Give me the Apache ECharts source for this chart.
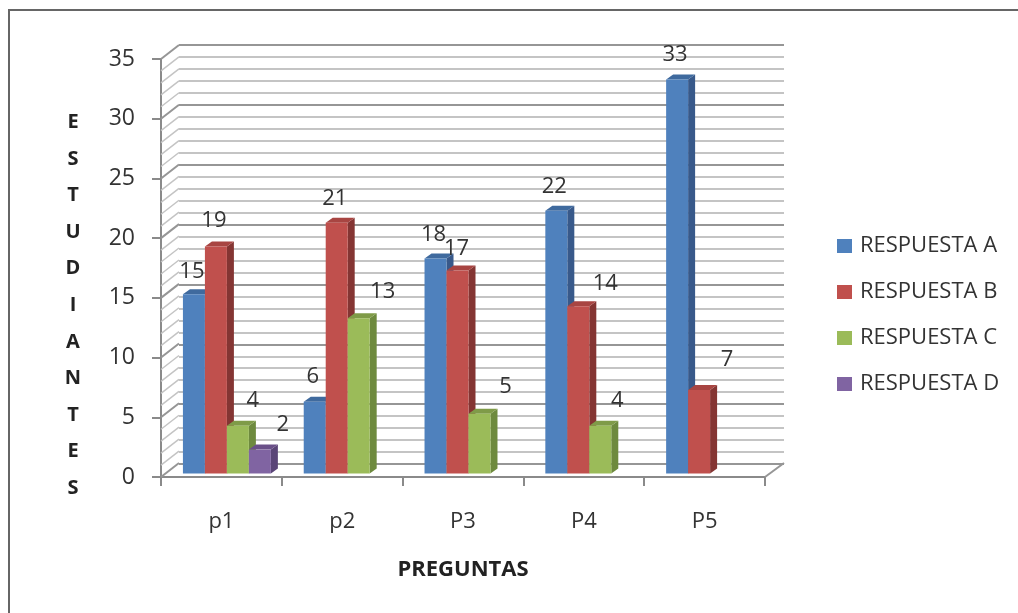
<!DOCTYPE html>
<html>
<head>
<meta charset="utf-8">
<style>html,body{margin:0;padding:0;background:#fff}#chart{width:1018px;height:613px}</style>
<script src="https://cdn.jsdelivr.net/npm/echarts@6/dist/echarts.min.js"></script>
</head>
<body>
<div id="chart"></div>
<script>
// Survey answers per question
const categories = ['p1', 'p2', 'P3', 'P4', 'P5'];
const respuestaA = [15, 6, 18, 22, 33];
const respuestaB = [19, 21, 17, 14, 7];
const respuestaC = [4, 13, 5, 4, null];
const respuestaD = [2, null, null, null, null];
const wallLevels = Array.from({length: 36}, (_, i) => i);

const FONT = '"Open Sans", Lato, sans-serif';
const TEXT = '#333333';
const DEPTH = {x: 18, y: -14};       // wall offset of the pseudo-3D box
const BAR_DEPTH = {x: 7, y: -5};     // visible depth of each column
const BAR_SHIFT = {x: 5.5, y: -3.5}; // columns stand mid-way on the floor

const seriesConfig = [
  {name: 'RESPUESTA A', values: respuestaA, slot: 0, face: '#4F81BD', top: '#3F6A9E', side: '#38598A',
   nudge: [[-2, -23], [-2, -25], [-2, -24], [-2, -24], [-2, -25]]},
  {name: 'RESPUESTA B', values: respuestaB, slot: 1, face: '#C0504D', top: '#A84542', side: '#843533',
   nudge: [[-2, -26], [-2, -24], [-1, -22], [27, -23], [28, -30]]},
  {name: 'RESPUESTA C', values: respuestaC, slot: 2, face: '#9BBB59', top: '#7F9B48', side: '#6E8A3E',
   nudge: [[15, -25], [24, -27], [26, -27], [17, -25], [0, 0]]},
  {name: 'RESPUESTA D', values: respuestaD, slot: 3, face: '#8064A2', top: '#6A5088', side: '#5A4577',
   nudge: [[23, -25], [0, 0], [0, 0], [0, 0], [0, 0]]}
];

// Draws one column as front, top and side faces plus its value label
function column3d(cfg) {
  return function (params, api) {
    const idx = api.value(0), val = api.value(1);
    const band = api.size([1, 0])[0];
    const w = band * 0.182;
    const groupLeft = api.coord([idx, 0])[0] - 2 * w + BAR_SHIFT.x;
    const x0 = groupLeft + cfg.slot * w, x1 = x0 + w;
    const yBase = api.coord([idx, 0])[1] + BAR_SHIFT.y;
    const yTop = api.coord([idx, val])[1] + BAR_SHIFT.y;
    const dx = BAR_DEPTH.x, dy = BAR_DEPTH.y;
    const n = cfg.nudge[idx];
    return {
      type: 'group',
      children: [
        {type: 'polygon', shape: {points: [[x1, yTop], [x1 + dx, yTop + dy], [x1 + dx, yBase + dy], [x1, yBase]]},
          style: {fill: cfg.side}},
        {type: 'polygon', shape: {points: [[x0, yTop], [x0 + dx, yTop + dy], [x1 + dx, yTop + dy], [x1, yTop]]},
          style: {fill: cfg.top}},
        {type: 'rect', shape: {x: x0, y: yTop, width: w, height: yBase - yTop}, style: {fill: cfg.face}},
        {type: 'text', style: {
          text: String(val), x: (x0 + x1) / 2 + n[0], y: yTop + n[1],
          align: 'center', verticalAlign: 'middle', fill: TEXT, fontSize: 22, fontFamily: FONT
        }}
      ]
    };
  };
}

// Diagonal rungs on the left wall and the right edge of the floor
function wallRung(params, api) {
  const v = api.value(0);
  const p = api.coord([0, v]);
  const x = params.coordSys.x;
  const major = v % 5 === 0;
  const rung = {
    type: 'line',
    shape: {x1: x, y1: p[1], x2: x + DEPTH.x, y2: p[1] + DEPTH.y},
    style: {stroke: major ? '#969696' : '#c4c4c4', lineWidth: major ? 2 : 1.5}
  };
  if (v !== 0) return rung;
  const right = x + params.coordSys.width;
  return {type: 'group', children: [rung, {
    type: 'line',
    shape: {x1: right, y1: p[1], x2: right + DEPTH.x + 1, y2: p[1] + DEPTH.y},
    style: {stroke: '#969696', lineWidth: 2}
  }]};
}

const chart = echarts.init(document.getElementById('chart'));
chart.setOption({
  animation: false,
  backgroundColor: '#fff',
  textStyle: {fontFamily: FONT},
  title: {
    text: 'E\nS\nT\nU\nD\nI\nA\nN\nT\nE\nS',
    left: 73, top: 104, padding: 0, textAlign: 'center',
    textStyle: {fontSize: 20, fontWeight: 'bold', color: '#222', lineHeight: 36.6, fontFamily: FONT}
  },
  graphic: [{
    type: 'rect', silent: true,
    shape: {x: 9, y: 10, width: 1100, height: 700},
    style: {fill: 'none', stroke: '#666666', lineWidth: 2}
  }],
  legend: {
    orient: 'vertical', left: 832, top: 230,
    itemWidth: 15, itemHeight: 14, itemGap: 24,
    icon: 'rect',
    textStyle: {fontSize: 22, color: TEXT, fontFamily: FONT, padding: [0, 0, 0, 3]},
    data: seriesConfig.map(s => s.name)
  },
  grid: [
    {left: 161, top: 59, width: 604, height: 418},
    {left: 179, top: 45, width: 605, height: 419, z: 0}
  ],
  xAxis: [
    {
      type: 'category', gridIndex: 0, data: categories,
      name: 'PREGUNTAS', nameLocation: 'middle', nameGap: 82,
      nameTextStyle: {fontSize: 22, fontWeight: 'bold', color: '#222', fontFamily: FONT},
      axisLine: {lineStyle: {color: '#8a8a8a', width: 2}},
      axisTick: {show: true, length: 9, alignWithLabel: false, lineStyle: {color: '#8a8a8a', width: 2}},
      axisLabel: {fontSize: 22, color: TEXT, margin: 34, fontFamily: FONT},
      splitLine: {show: false}
    },
    {type: 'category', gridIndex: 1, data: categories, show: false}
  ],
  yAxis: [
    {
      type: 'value', gridIndex: 0, min: 0, max: 35, interval: 5,
      axisLine: {show: true, lineStyle: {color: '#8a8a8a', width: 2}},
      axisTick: {show: true, length: 9, lineStyle: {color: '#8a8a8a', width: 2}},
      axisLabel: {fontSize: 23, color: TEXT, margin: 26, padding: [4, 0, 0, 0], fontFamily: FONT},
      splitLine: {show: false}
    },
    {
      type: 'value', gridIndex: 1, min: 0, max: 35, interval: 5,
      axisLine: {show: false}, axisTick: {show: false}, axisLabel: {show: false},
      minorTick: {show: false, splitNumber: 5},
      splitLine: {show: true, lineStyle: {color: '#969696', width: 2}},
      minorSplitLine: {show: true, lineStyle: {color: '#c4c4c4', width: 2}}
    }
  ],
  series: [
    {
      type: 'custom', name: 'paredes', xAxisIndex: 0, yAxisIndex: 0, silent: true, clip: false, z: 1,
      data: wallLevels.map(v => [v]), encode: {y: 0}, renderItem: wallRung
    }
  ].concat(seriesConfig.map(cfg => ({
    type: 'custom', name: cfg.name, xAxisIndex: 0, yAxisIndex: 0, clip: false, z: 3,
    itemStyle: {color: cfg.face},
    encode: {x: 0, y: 1},
    data: cfg.values.map((v, i) => [i, v]).filter(d => d[1] !== null),
    renderItem: column3d(cfg)
  })))
});
</script>
</body>
</html>
